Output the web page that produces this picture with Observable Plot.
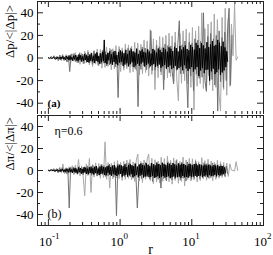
<!DOCTYPE html>
<html><head><meta charset="utf-8">
<script src="https://cdn.jsdelivr.net/npm/d3@7"></script>
<script src="https://cdn.jsdelivr.net/npm/@observablehq/plot@0.6"></script>
<style>body{margin:0;background:#fff} svg{display:block} svg text{font-family:"Liberation Serif","DejaVu Serif",serif !important}</style>
</head><body><div id="chart"></div>
<script>
// ---- data ----
const blackA = [
 0.2,-0.3,0.5,0,-0.6,0.4,0.8,-0.5,0.3,-0.9,
 1,-0.4,0.6,-1.2,0.9,-0.7,1.5,-1,0.5,-1.6,
 1.8,-0.8,1.2,-2,2.2,-1.5,0.7,-2.4,1.9,-1.2,
 2.6,-2.2,1,-2.8,3,-1.6,2.4,-3.2,1.4,-2.6,
 3.4,-1.8,2.8,-3.6,1.6,-4,3.2,-2.4,4.2,-3,
 2,-4.5,3.8,-2.6,4.8,-3.4,1.8,-5,4,-3.8,
 5.2,-2.8,16,-4.4,3,-5.4,4.6,-2,5.8,-4.8,
 3.2,-6,5,-3.6,6.2,-5.2,2.6,-6.4,5.4,-4,
 6.6,-3.4,5.6,-7,4.2,-5.8,7.2,-4.6,3.6,-7.4,
 6.4,-5.4,7.6,-3.8,5.8,-8,4.8,-6.6,8.2,-5,
 3.6,-7,6,-5,7.4,-3.8,5.4,-7.6,4.6,-6.2,
 7.6,-4.8,5.8,-7.4,4,-6.4,8,-5.4,6.6,-8,
 4.8,-7,8.4,-5.8,7.2,-8.6,5.2,-7.4,9,-6,
 7.6,-9.2,5.6,-8,9.4,-6.6,8.2,-9.8,6.2,-8.6,
 10,-6.8,8.8,-10.2,5.8,-9,10.6,-7.6,7.4,-10.8,
 9.4,-6.4,11,-9.2,8,-11.4,6.8,-9.6,11.6,-8,
 9.6,-12,7.4,-10,13.4,-8,11.4,-16,8.8,-11,
 13,-9,11.2,-13.4,8.4,-10.6,14,-10.2,9.6,-20,
 12,-11.8,15,-9.4,10.8,-14.2,11.6,-12.6,16,-10,
 13.6,-15,10.4,-12.8,14.4,-11,9.4,-8,6,-3];
const darkA = [
 0.5,-1,1.4,-0.6,2,-1.8,1,-2.4,2.6,-1.4,
 3,-2.2,1.8,-3.4,2.4,-12,3.6,-2,4,-3.2,
 2.6,-4.2,4.6,-2.8,3.4,-5,4.4,-3.6,5.2,-4,
 3,-5.6,6,-4.2,5,-6.4,3.8,-5.2,6.8,-4.6,
 5.6,-7,4.4,-6,7.4,-5.2,6.4,-8,4.8,-35,
 7.8,-5.8,6.6,-8.4,5.2,-7.2,8.6,-6.2,9,-7.6,
 6,-9.4,8.2,-43,7,-10,9.6,-6.8,8.8,-10.4,
 7.4,-9,24,-11,8,-10.8,11.4,-8.6,10,-12,
 9.2,-28,12.4,-9.8,11,-13,10.6,-12.2,-23,13.6,
 -11,12.8,33,-14,11.6,-13.8,15,-12.6,-44,14.2,
 -16,13,-29,17,-14.4,15.8,-18,14.6,-17,40,
 -20,-29,19,-16,22,-19,17,-24,20,-47,
 24,-21,18,-26,23,-20,27,44,-24,20];
const lightA = [
 0,0.8,-1.2,1.6,-0.8,2.2,-2.6,1.4,-2,3,
 -3.4,2.4,-4,3.6,-2.8,4.8,-4.2,3.2,-5.6,4.4,
 -5,6,-4.4,6.8,-6.2,5,-7.6,6.6,-5.4,8,
 -7,7.6,-9,6,-8.4,9.6,-7.4,8.8,-10.4,8.2,
 -9.6,11,-8.8,10.2,-12,9,-10.8,12.4,-9.4,11.6,
 -13,10.4,-12.2,14,-11,13.2,-15,12,-14,16,
 -12.8,15.2,-16,25,-14.6,17,-28,15.8,-17.4,19,
 -15,18.4,-19,20,-17.6,22,-16.4,19.6,-21,23,
 -19.4,-38,21.6,-22.4,24,-20,25.6,-23,22.4,-26,
 27,-46,24,-25,28,-22.6,40,-27,26,-30,
 30,-24,32,-29,39,-26,34,-31,-47,36,
 -28,44,-33,35,-25,30,2,48,-2,1];
const blackB = [
 0.2,-0.3,0.5,-0.1,0.7,-0.5,0.3,-0.8,0.6,-0.4,
 1,-0.7,0.4,-1.1,0.9,-0.6,1.4,-1,0.6,-1.5,
 1.7,-0.9,1.2,-1.9,2,-1.3,0.8,-2.2,1.8,-1.2,
 2.4,-2,1.1,-2.6,2.7,-1.5,2.2,-2.9,1.4,-2.4,
 3,-1.8,2.6,-3.2,1.7,-3.4,3,-2.2,3.6,-2.7,
 2,-3.8,3.4,-2.4,4,-3,1.8,-4.2,3.6,-3.2,
 4.2,-2.6,3.2,-4,2.8,-4.4,3.8,-2,4.6,-3.8,
 3,-4.8,4.2,-3.2,5,-4.2,2.6,-5,4.4,-3.4,
 5.2,-3,4.6,-5.4,3.8,-4.6,5.6,-3.8,3.2,-5.6,
 5,-4.4,5.8,-3.4,4.6,-6,4,-5.2,6.2,-4.2,
 3.6,-6.2,5.4,-4.8,6.4,-3.8,5,-6.4,4.4,-5.4,
 6.6,-4.6,5.2,-6,4,-5.8,6.8,-5,5.6,-6.6,
 4.6,-6,6.4,-5.2,5.8,-6.8,4.8,-5.6,7,-5,
 6,-6.4,4.8,-5.8,6.6,-5.2,6.2,-7,5,-6,
 6.8,-5.4,5.6,-6.4,4.6,-6,6.4,-5.6,5.2,-6.6,
 6.2,-5,5.8,-6.2,5,-5.8,4.4,-6.4,6,-5.2,
 5.4,-6,4.6,-5.4,5.8,-4.8,6.2,-5.6,4.8,-5,
 5.6,-4.6,5,-5.8,4.4,-5.2,5.4,-4.4,4.6,-5.6,
 5.2,-4.2,4.6,-5,3.8,-4.8,5,-4,4.4,-5.2,
 4.6,-4,3.8,-4.6,4.2,-3.6,4,-3.4,2.8,-2];
const darkB = [
 0.4,-0.8,1.2,-0.5,1.6,-1.4,0.8,-2,2.2,-1.2,
 2.6,-1.8,1.4,-2.8,2,-34,3,-1.6,3.2,-2.6,
 2.2,-3.4,3.6,-2.2,2.8,-4,3.4,-2.8,4.2,-3,
 2.4,-4.4,4.8,-3.2,4,-5,3,-4.2,5.4,-3.6,
 4.4,-5.4,3.6,-4.8,5.8,-4,5,-6,3.8,-41,
 6,-4.4,5.2,-6.4,4.2,-5.6,6.6,-4.8,7,-5.8,
 4.8,-7,6.2,-5.2,-34,-9,5.6,-7.4,6.8,-5.4,
 7.2,-6,5.4,-7.8,6.4,-10,5.8,-6.8,7.6,-8,
 6,-16,7,-7.2,5.6,-9.4,8,-6.4,7.2,-8.6,
 6.6,-7.6,9,-6.2,6.8,-8.8,7.4,-7,6,-9.6,
 7.8,-6.6,6.4,-8,5.8,-7.2,8.4,-6,6.6,-7.4,
 5.6,-6.8,7,-5.8,6.2,-7,5.4,-6.4,6.8,-5.6,
 6,-6.2,5.2,-5.6,5.6,-5,4.8,-5.2,4,-3];
const lightB = [
 0,1.2,-0.8,2,-1.6,3,-2.4,6,-3,2.6,
 -3.6,3.4,-2.8,4.4,-4,5,-3.2,10,-5,4.2,
 -5.6,-23,6,-4.6,11,-20,5.4,-6,7,-5.2,
 6.4,-7,5.8,-6.4,26,-8,7.2,-16,6.6,-7.6,
 8,-6.8,9,-7.4,7.6,-9,8.4,-8,9.4,-7.2,
 10,-8.6,7.8,-10,8.8,15,-9.4,8.2,-11,9.6,
 -8,10.4,15,-9.2,11,-12,9.8,-10.6,8.6,-11.4,
 12,-9.8,10.8,-8.8,13,-10.2,9.2,-12.4,11.4,-9,
 10,-11.6,8.4,-10,12.2,-14,9.6,-8.2,11,-9.6,
 10.6,-8.6,9.8,-10.4,8,-9.2,11.6,-7.8,9,-8.8,
 10.2,-7.4,8.6,-9.4,7.6,-8,9.4,-7,8,-6.4,
 7.4,-6,6.8,-5.4,6,0.4,0,-0.5,8,0];
// log10(r) span of each sampled series
const spanBlackA = [-1.0, 1.5], spanDarkA = [-1.0, 1.56], spanLightA = [-0.95, 1.64];
const spanBlackB = [-1.0, 1.47], spanDarkB = [-1.0, 1.5], spanLightB = [-0.95, 1.64];
const majorX = [0.1, 1, 10, 100];
const expX = ["-1", "0", "1", "2"];
const minorX = [0.08,0.09,0.2,0.3,0.4,0.5,0.6,0.7,0.8,0.9,2,3,4,5,6,7,8,9,20,30,40,50,60,70,80,90];
const majorY = [-40, -20, 0, 20, 40];
const minorY = [-30, -10, 10, 30];

// ---- chart ----
const W = 273, ML = 37, MR = 10;
const xDomain = [0.0705, 100];
const colors = {light: "#a8a8a8", dark: "#707070", black: "#000000"};
const font = "'Liberation Serif', 'DejaVu Serif', serif";

function rows(values, span) {
  const n = values.length;
  return values.map((v, i) => ({r: Math.pow(10, span[0] + i * (span[1] - span[0]) / (n - 1)), v}));
}

function panel({h, mt, mb, series, ylabel, notes, bottomAxis}) {
  const innerH = h - mt - mb, innerW = W - ML - MR;
  const tc = "#222";
  const marks = [
    ...series.map(s => Plot.line(rows(s.values, s.span), {x: "r", y: "v", stroke: s.color, strokeWidth: 1})),
    Plot.frame({stroke: tc}),
    Plot.tickX(majorX, {x: d => d, insetTop: innerH - 6, stroke: tc}),
    Plot.tickX(majorX, {x: d => d, insetBottom: innerH - 6, stroke: tc}),
    Plot.tickX(minorX, {x: d => d, insetTop: innerH - 3, stroke: tc}),
    Plot.tickX(minorX, {x: d => d, insetBottom: innerH - 3, stroke: tc}),
    Plot.tickY(majorY, {y: d => d, insetRight: innerW - 6, stroke: tc}),
    Plot.tickY(majorY, {y: d => d, insetLeft: innerW - 6, stroke: tc}),
    Plot.tickY(minorY, {y: d => d, insetRight: innerW - 3, stroke: tc}),
    Plot.tickY(minorY, {y: d => d, insetLeft: innerW - 3, stroke: tc}),
    Plot.text(majorY, {y: d => d, frameAnchor: "left", dx: -4, textAnchor: "end", text: d => String(d), fontSize: 13}),
    Plot.text([ylabel], {frameAnchor: "left", dx: -28, rotate: -90, text: d => d, fontSize: 13}),
    ...notes
  ];
  if (bottomAxis) {
    marks.push(
      Plot.text(majorX, {x: d => d, frameAnchor: "bottom", dx: -3, dy: 20, lineAnchor: "bottom", text: () => "10", fontSize: 13}),
      Plot.text(majorX, {x: d => d, frameAnchor: "bottom", dx: 3.5, dy: 13, lineAnchor: "bottom", textAnchor: "start", text: (d, i) => expX[i], fontSize: 9}),
      Plot.text(["r"], {frameAnchor: "bottom", dy: 28, lineAnchor: "bottom", text: d => d, fontSize: 14})
    );
  }
  return Plot.plot({
    width: W, height: h, marginLeft: ML, marginRight: MR, marginTop: mt, marginBottom: mb,
    style: {fontFamily: font, fontSize: "13px", background: "white", color: "black"},
    x: {type: "log", domain: xDomain, axis: null},
    y: {domain: [-50, 50], axis: null},
    marks
  });
}

const panelA = panel({
  h: 114, mt: 1, mb: 0,
  series: [
    {values: lightA, span: spanLightA, color: colors.light},
    {values: darkA, span: spanDarkA, color: colors.dark},
    {values: blackA, span: spanBlackA, color: colors.black}
  ],
  ylabel: "Δp/<|Δp|>",
  notes: [Plot.text(["(a)"], {frameAnchor: "bottom-left", dx: 10, dy: -8, lineAnchor: "bottom", textAnchor: "start", text: d => d, fontWeight: "bold", fontSize: 11})],
  bottomAxis: false
});
const panelB = panel({
  h: 141, mt: 1, mb: 30,
  series: [
    {values: lightB, span: spanLightB, color: colors.light},
    {values: darkB, span: spanDarkB, color: colors.dark},
    {values: blackB, span: spanBlackB, color: colors.black}
  ],
  ylabel: "Δπ/<|Δπ|>",
  notes: [
    Plot.text(["(b)"], {frameAnchor: "bottom-left", dx: 10, dy: -8, lineAnchor: "bottom", textAnchor: "start", text: d => d, fontSize: 12}),
    Plot.text(["η=0.6"], {frameAnchor: "top-left", dx: 17, dy: 19, lineAnchor: "bottom", textAnchor: "start", text: d => d, fontSize: 12})
  ],
  bottomAxis: true
});
document.getElementById("chart").append(panelA, panelB);
</script>
</body></html>
